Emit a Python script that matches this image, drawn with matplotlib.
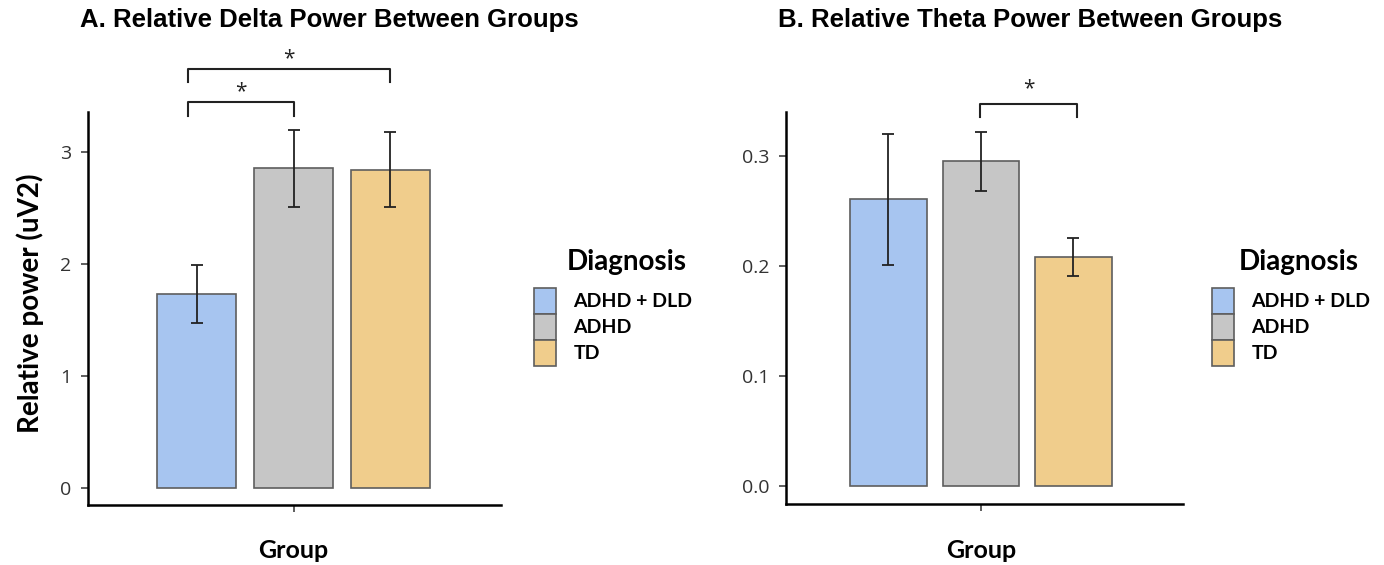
import matplotlib.pyplot as plt
from matplotlib.patches import Patch

groups = ["ADHD + DLD", "ADHD", "TD"]
colors = ["#A7C5F0", "#C6C6C6", "#F0CD8C"]

delta_mean = [1.73, 2.86, 2.84]
delta_lo = [1.47, 2.51, 2.51]
delta_hi = [1.99, 3.20, 3.18]

theta_mean = [0.261, 0.295, 0.208]
theta_lo = [0.201, 0.268, 0.191]
theta_hi = [0.320, 0.322, 0.225]

W, H = 1384, 565
fig = plt.figure(figsize=(W / 100, H / 100), dpi=100)

TICKFONT = "Open Sans"
LABFONT = "Lato"
TITLEFONT = "Liberation Sans"


def fx(px):
    return px / W


def fy(py):
    return 1 - py / H


def panel(rect, means, lo, hi, xlim, ylim, yticks, ylabels, width):
    ax = fig.add_axes(rect)
    pos = [-1, 0, 1]
    yerr = [[m - l for m, l in zip(means, lo)], [h - m for m, h in zip(means, hi)]]
    ax.bar(pos, means, width=width, color=colors, edgecolor="#5E5E5E", linewidth=1.2, zorder=2)
    ax.errorbar(pos, means, yerr=yerr, fmt="none", ecolor="#222222", elinewidth=1.3,
                capsize=4, capthick=1.3, zorder=3)
    ax.set_xlim(*xlim)
    ax.set_ylim(*ylim)
    ax.set_yticks(yticks)
    ax.set_yticklabels(ylabels, fontfamily=TICKFONT, fontsize=14, color="#333333")
    ax.set_xticks([0])
    ax.set_xticklabels([""])
    for s in ["top", "right"]:
        ax.spines[s].set_visible(False)
    for s in ["left", "bottom"]:
        ax.spines[s].set_linewidth(1.8)
        ax.spines[s].set_color("black")
    ax.tick_params(axis="both", length=5, width=1.1, color="#333333")
    ax.tick_params(axis="y", pad=7)
    return ax


axA = panel([fx(88), fy(505), fx(501) - fx(88), fy(112) - fy(505)],
            delta_mean, delta_lo, delta_hi, (-2.12, 2.14), (-0.152, 3.357),
            [0, 1, 2, 3], ["0", "1", "2", "3"], 0.82)
axB = panel([fx(786), fy(504), fx(1183) - fx(786), fy(112) - fy(504)],
            theta_mean, theta_lo, theta_hi, (-2.108, 2.184), (-0.0164, 0.34),
            [0, 0.1, 0.2, 0.3], ["0.0", "0.1", "0.2", "0.3"], 0.83)


def bracket(ax, x0, x1, y, drop, star_y):
    ax.plot([x0, x0, x1, x1], [y - drop, y, y, y - drop], color="#222222", lw=1.5,
            clip_on=False, zorder=4)
    ax.text((x0 + x1) / 2, star_y, "*", ha="center", va="center", fontsize=15,
            fontfamily=TICKFONT, color="#222222", clip_on=False)


bracket(axA, -1.093, 0.0, 3.446, 0.125, 3.54)
bracket(axA, -1.093, 1.0, 3.741, 0.118, 3.835)
bracket(axB, -0.01, 1.04, 0.3473, 0.0116, 0.361)

# titles
fig.text(fx(80), fy(20), "A. Relative Delta Power Between Groups", fontfamily=TITLEFONT,
         fontweight="bold", fontsize=18.5, ha="left", va="center")
fig.text(fx(778), fy(20), "B. Relative Theta Power Between Groups", fontfamily=TITLEFONT,
         fontweight="bold", fontsize=18.5, ha="left", va="center")

# axis labels
fig.text(fx(293), fy(550), "Group", fontfamily=LABFONT, fontweight="bold", fontsize=18,
         ha="center", va="center")
fig.text(fx(981), fy(550), "Group", fontfamily=LABFONT, fontweight="bold", fontsize=18,
         ha="center", va="center")
fig.text(fx(30), fy(303), "Relative power (uV2)", fontfamily=LABFONT, fontweight="bold",
         fontsize=20, rotation=90, ha="center", va="center")

# legends
handles = [Patch(facecolor=c, edgecolor="#5E5E5E", linewidth=1.2) for c in colors]
for tx, kx in [(627, 534), (1299, 1212)]:
    fig.text(fx(tx), fy(262), "Diagnosis", fontfamily=LABFONT, fontweight="bold",
             fontsize=20, ha="center", va="center")
    fig.legend(handles, groups, loc="upper left", bbox_to_anchor=(fx(kx), fy(288)),
               frameon=False, borderpad=0, borderaxespad=0, labelspacing=0.0,
               handlelength=1.15, handleheight=1.68, handletextpad=0.88,
               prop={"family": LABFONT, "weight": "bold", "size": 14})

fig.savefig("out.png", dpi=100)
